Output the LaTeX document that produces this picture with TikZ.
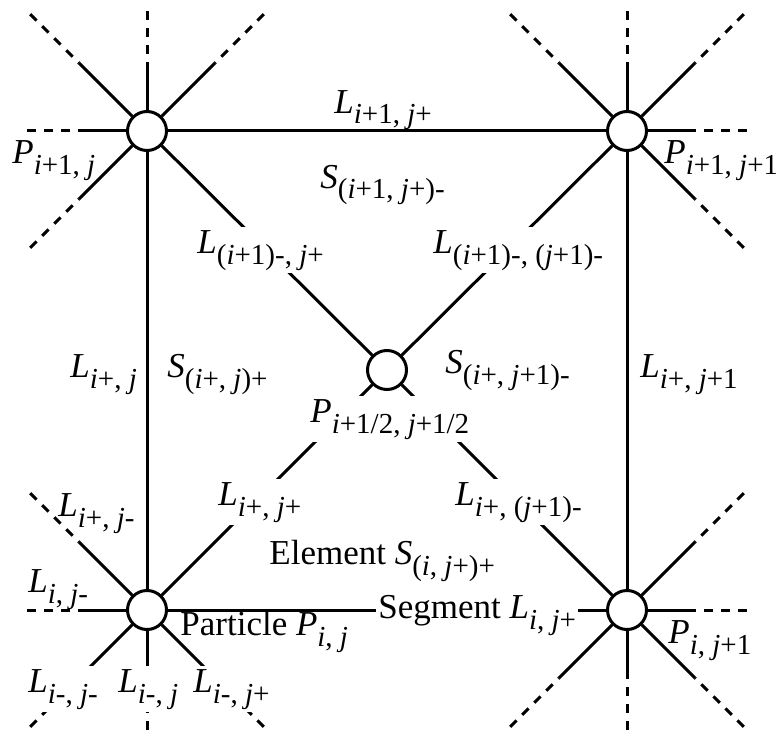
\documentclass[tikz,border=0pt]{standalone}
\usepackage{fontspec}
\setmainfont{Liberation Serif}
\usetikzlibrary{calc}
\newcommand{\sym}[2]{\textit{#1}\raisebox{-5.5pt}{\fontsize{14.5}{17}\selectfont #2}}
\newcommand{\idi}{\textit{i}}
\newcommand{\idj}{\textit{j}}

\begin{document}
\begin{tikzpicture}[
  x=0.5pt, y=-0.5pt,
  font=\fontsize{17.5}{21}\selectfont,
  particle/.style={draw, circle, fill=white, line width=1.5pt, minimum size=19.5pt, inner sep=0pt},
  seg/.style={line width=1.5pt},
  ext/.style={line width=1.5pt, dash pattern=on 4.5pt off 4pt, dash phase=4pt},
  lbl/.style={inner sep=0pt, anchor=base west},
  cut/.style={lbl, fill=white, inner xsep=1pt, inner ysep=1.5pt, xshift=-1pt}
]
\useasboundingbox (0,0) rectangle (776,733);
% particles
\node[particle] (pa) at (147,131) {};
\node[particle] (pb) at (627,131) {};
\node[particle] (pc) at (147,610) {};
\node[particle] (pd) at (627,610) {};
\node[particle] (pm) at (387,370) {};
% segments of the element
\draw[seg] (pa) -- (pb);
\draw[seg] (pa) -- (pc);
\draw[seg] (pb) -- (pd);
\draw[seg] (pc) -- (pd);
\foreach \p in {pa,pb,pc,pd}
  \draw[seg] (\p) -- (pm);
% neighbouring segments
\foreach \p/\dx/\dy in {pa/-1/0, pa/0/-1, pa/-1/-1, pa/1/-1, pa/-1/1,
    pb/1/0, pb/0/-1, pb/-1/-1, pb/1/-1, pb/1/1,
    pc/-1/0, pc/0/1, pc/-1/1, pc/1/1, pc/-1/-1,
    pd/1/0, pd/0/1, pd/-1/1, pd/1/1, pd/1/-1}{
  \draw[seg] (\p) -- ($(\p)+({68*\dx},{68*\dy})$);
  \draw[ext] ($(\p)+({68*\dx},{68*\dy})$) -- ($(\p)+({120*\dx},{120*\dy})$);
}
% labels
\node[lbl] (tpa) at (12,163) {\sym{P}{\idi+1, \idj}};
\node[lbl] (tpb) at (664,163) {\sym{P}{\idi+1, \idj+1}};
\node[lbl] (tlab) at (334,113) {\sym{L}{\idi+1, \idj+}};
\node[lbl] (tsab) at (320,188) {\sym{S}{(\idi+1, \idj+)-}};
\node[cut] (tlam) at (197,253) {\sym{L}{(\idi+1)-, \idj+}};
\node[cut] (tlbm) at (433,253) {\sym{L}{(\idi+1)-, (\idj+1)-}};
\node[lbl] (tlac) at (70,377) {\sym{L}{\idi+, \idj}};
\node[lbl] (tsac) at (167,377) {\sym{S}{(\idi+, \idj)+}};
\node[cut] (tpm) at (310,422) {\sym{P}{\idi+1/2, \idj+1/2}};
\node[lbl] (tsbd) at (445,373) {\sym{S}{(\idi+, \idj+1)-}};
\node[lbl] (tlbd) at (640,377) {\sym{L}{\idi+, \idj+1}};
\node[cut] (tlcm) at (218,505) {\sym{L}{\idi+, \idj+}};
\node[cut] (tldm) at (455,505) {\sym{L}{\idi+, (\idj+1)-}};
\node[lbl] (tscd) at (269,564) {Element \sym{S}{(\idi, \idj+)+}};
\node[cut] (tlcd) at (378,618) {Segment \sym{L}{\idi, \idj+}};
\node[lbl] (tpc) at (180,635) {Particle \sym{P}{\idi, \idj}};
\node[lbl] (tpd) at (668,643) {\sym{P}{\idi, \idj+1}};
\node[lbl] (tlul) at (58,516) {\sym{L}{\idi+, \idj-}};
\node[lbl] (tll) at (28,592) {\sym{L}{\idi, \idj-}};
\node[cut] (tldl) at (28,692) {\sym{L}{\idi-, \idj-}};
\node[cut] (tld) at (118,692) {\sym{L}{\idi-, \idj}};
\node[cut] (tldr) at (193,692) {\sym{L}{\idi-, \idj+}};
\end{tikzpicture}
\end{document}
